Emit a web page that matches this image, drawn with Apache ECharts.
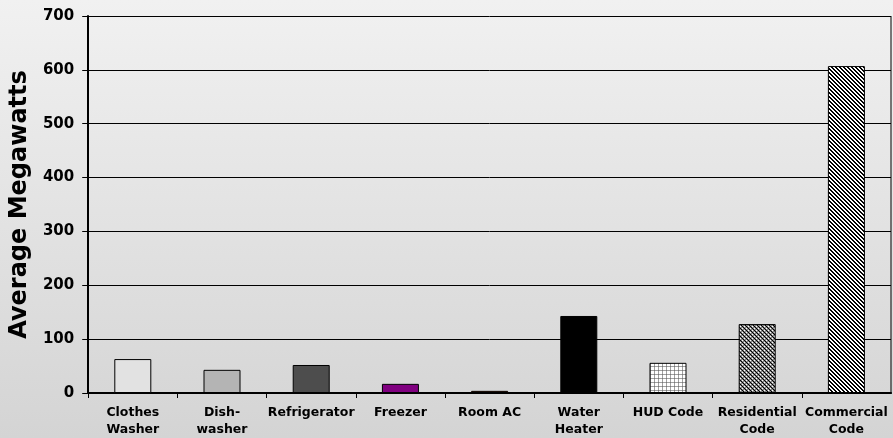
<!DOCTYPE html>
<html>
<head>
<meta charset="utf-8">
<script src="https://cdn.jsdelivr.net/npm/echarts@6/dist/echarts.min.js"></script>
<style>
html,body{margin:0;padding:0;}
#c{width:893px;height:438px;background:linear-gradient(#f1f1f1,#d4d4d4);}
</style>
</head>
<body>
<div id="c"></div>
<script>
var categories = ['Clothes\nWasher','Dish-\nwasher','Refrigerator','Freezer','Room AC','Water\nHeater','HUD Code','Residential\nCode','Commercial\nCode'];
var values = [63, 43, 52, 17, 4, 143, 56, 128, 607];
var yTicks = [0,100,200,300,400,500,600,700];

function tile(w, h, draw) {
  var c = document.createElement('canvas');
  c.width = w; c.height = h;
  var g = c.getContext('2d');
  draw(g);
  return {image: c, repeat: 'repeat'};
}
var hudPattern = tile(4, 4, function(g){
  g.fillStyle = '#ffffff'; g.fillRect(0,0,4,4);
  g.fillStyle = '#a0a0a0'; g.fillRect(0,2,4,1); g.fillRect(2,0,1,4);
  g.fillStyle = '#777777'; g.fillRect(2,2,1,1);
});
var resPattern = tile(4, 4, function(g){
  g.fillStyle = '#888888'; g.fillRect(0,0,4,4);
  g.fillStyle = '#000000'; g.fillRect(0,0,1,1); g.fillRect(2,2,1,1); g.fillRect(1,1,1,1); g.fillRect(3,3,1,1);
  g.fillStyle = '#ffffff'; g.fillRect(2,0,1,1); g.fillRect(0,2,1,1);
});
var comPattern = tile(4, 4, function(g){
  g.fillStyle = '#ffffff'; g.fillRect(0,0,4,4);
  g.fillStyle = '#000000';
  for (var y = 0; y < 4; y++) { g.fillRect(y % 4, y, 1, 1); g.fillRect((y + 1) % 4, y, 1, 1); }
});
var barColors = ['#e2e2e2','#b4b4b4','#4d4d4d','#800080','#993300','#000000', hudPattern, resPattern, comPattern];

var chart = echarts.init(document.getElementById('c'), null, {renderer: 'canvas'});
chart.setOption({
  animation: false,
  backgroundColor: 'transparent',
  grid: {left: 86, right: 2, top: 16, bottom: 44},
  xAxis: {
    type: 'category',
    data: categories,
    axisLine: {lineStyle: {color: '#000', width: 2}},
    axisTick: {show: true, length: 5, lineStyle: {color: '#000', width: 1}},
    axisLabel: {color: '#000', fontFamily: 'DejaVu Sans', fontWeight: 'bold', fontSize: 12.5, lineHeight: 17, margin: 11, interval: 0}
  },
  yAxis: {
    type: 'value',
    min: 0, max: 700, interval: 100,
    name: 'Average Megawatts',
    nameLocation: 'middle',
    nameGap: 52,
    nameTextStyle: {color: '#000', fontFamily: 'DejaVu Sans', fontWeight: 'bold', fontSize: 24},
    axisLine: {show: true, lineStyle: {color: '#000', width: 2}},
    axisTick: {show: true, length: 6, lineStyle: {color: '#000'}},
    axisLabel: {color: '#000', fontFamily: 'DejaVu Sans', fontWeight: 'bold', fontSize: 15, margin: 14,
      formatter: function(v){ return yTicks.indexOf(v) >= 0 ? String(v) : ''; }},
    splitLine: {show: true, lineStyle: {color: '#000', width: 1}}
  },
  series: [{
    type: 'bar',
    data: values.map(function(v, i){ return {value: v, itemStyle: {color: barColors[i]}}; }),
    barWidth: 37,
    itemStyle: {borderColor: '#000', borderWidth: 1}
  }],
  graphic: [{
    type: 'line', shape: {x1: 891, y1: 16, x2: 891, y2: 394}, style: {stroke: '#000', lineWidth: 1}
  }]
});
</script>
</body>
</html>
